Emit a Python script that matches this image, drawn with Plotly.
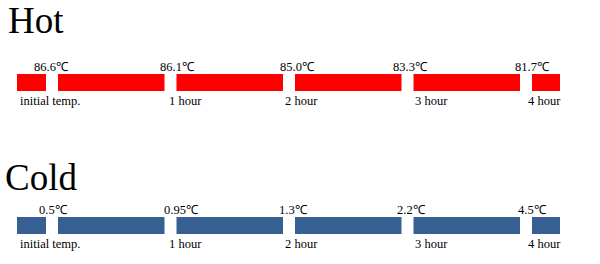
import plotly.graph_objects as go

# ---- data ----
categories = ["initial temp.", "1 hour", "2 hour", "3 hour", "4 hour"]
hours = [0, 1, 2, 3, 4]
hot_values = ["86.6℃", "86.1℃", "85.0℃", "83.3℃", "81.7℃"]
cold_values = ["0.5℃", "0.95℃", "1.3℃", "2.2℃", "4.5℃"]
panels = ["Hot", "Cold"]

# ---- layout helpers (pixels) ----
W, H = 600, 264
px0, pxh = 52.0, 118.5          # pixel of hour 0, pixels per hour
def h2x(px):
    return (px - px0) / pxh
gap = 6.0 / pxh                 # half gap in hours
start_h, end_h = h2x(17), h2x(560)

bar_centers = {"Hot": 82.5, "Cold": 225.5}
bar_h = 17
colors = {"Hot": "#FF0000", "Cold": "#376092"}
value_shift = {"Hot": [-1, 7, 8, 3, 6], "Cold": [1, 11, 4, 4, 6]}
cat_left_px = [18, 167, 283, 413, 526]
title_pos = {"Hot": (6, 20), "Cold": (3, 177)}

fig = go.Figure()
for p in panels:
    bounds = [start_h] + hours + [end_h]
    bases, lens = [], []
    for i in range(len(bounds) - 1):
        a = bounds[i] + (gap if i > 0 else 0)
        b = bounds[i + 1] - (gap if i < len(bounds) - 2 else 0)
        bases.append(a)
        lens.append(b - a)
    fig.add_trace(go.Bar(
        orientation="h", base=bases, x=lens, y=[bar_centers[p]] * len(lens),
        width=bar_h, marker=dict(color=colors[p], line=dict(width=0)),
        showlegend=False, hoverinfo="skip"))

annotations = []
font_small = dict(family="Liberation Serif, Times New Roman, serif", size=12.5, color="#000")
for p in panels:
    vals = hot_values if p == "Hot" else cold_values
    yc = bar_centers[p]
    for h, v, s in zip(hours, vals, value_shift[p]):
        annotations.append(dict(x=h, y=yc - 16, text=v, showarrow=False,
                                xanchor="center", yanchor="middle", xshift=s,
                                font=font_small))
    for c, lp in zip(categories, cat_left_px):
        annotations.append(dict(x=h2x(lp), y=yc + 18, text=c, showarrow=False,
                                xanchor="left", yanchor="middle",
                                font=font_small))
    tx, ty = title_pos[p]
    annotations.append(dict(x=h2x(tx), y=ty, text=p, showarrow=False,
                            xanchor="left", yanchor="middle",
                            font=dict(family="Liberation Serif, Times New Roman, serif",
                                      size=37, color="#000")))

fig.update_layout(
    width=W, height=H, margin=dict(l=0, r=0, t=0, b=0),
    paper_bgcolor="white", plot_bgcolor="white",
    barmode="overlay",
    xaxis=dict(range=[h2x(0), h2x(W)], visible=False, fixedrange=True),
    yaxis=dict(range=[H, 0], visible=False, fixedrange=True),
    annotations=annotations,
)
fig.write_html("out.html")
